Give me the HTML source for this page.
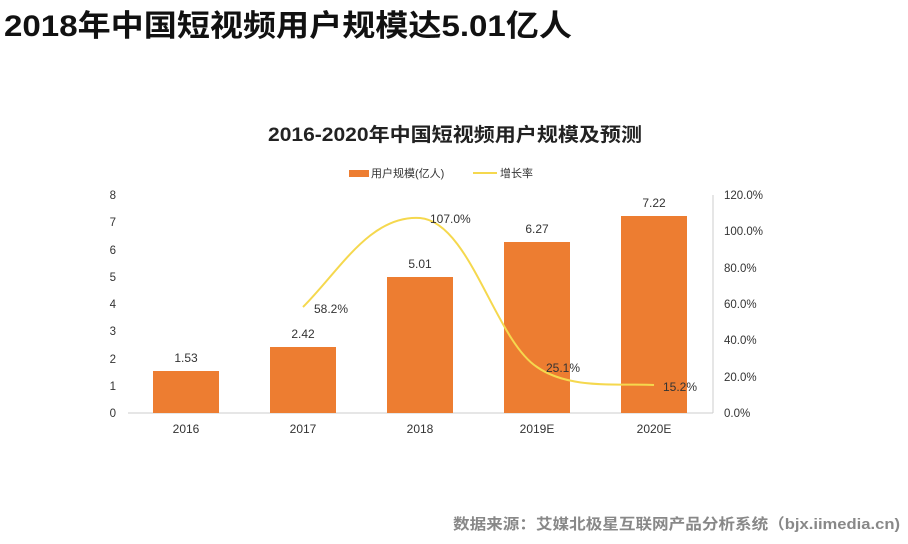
<!DOCTYPE html>
<html><head><meta charset="utf-8"><style>
body{margin:0;width:908px;height:539px;background:#fff;overflow:hidden;font-family:"Liberation Sans","Noto Sans CJK SC",sans-serif;}
</style></head><body>
<svg width="908" height="539" xmlns="http://www.w3.org/2000/svg" style="font-family:'Liberation Sans','Noto Sans CJK SC',sans-serif">
<text x="4" y="36" font-size="30" font-weight="bold" fill="#111" textLength="568" lengthAdjust="spacingAndGlyphs">2018年中国短视频用户规模达5.01亿人</text>
<text x="268" y="141" font-size="19" font-weight="bold" fill="#222" textLength="374" lengthAdjust="spacingAndGlyphs">2016-2020年中国短视频用户规模及预测</text>
<rect x="349" y="170" width="20" height="7" fill="#ED7D31"/>
<text x="371" y="177" font-size="11" fill="#333">用户规模(亿人)</text>
<line x1="473" y1="173" x2="497" y2="173" stroke="#F5D84E" stroke-width="2"/>
<text x="500" y="177" font-size="11" fill="#333">增长率</text>
<g font-size="11.5" fill="#333" text-anchor="end">
<text x="116" y="417">0</text><text x="116" y="390">1</text><text x="116" y="363">2</text><text x="116" y="335">3</text><text x="116" y="308">4</text><text x="116" y="281">5</text><text x="116" y="254">6</text><text x="116" y="226">7</text><text x="116" y="199">8</text>
</g>
<g font-size="11.5" fill="#333">
<text x="724" y="417">0.0%</text><text x="724" y="381">20.0%</text><text x="724" y="344">40.0%</text><text x="724" y="308">60.0%</text><text x="724" y="272">80.0%</text><text x="724" y="235">100.0%</text><text x="724" y="199">120.0%</text>
</g>
<line x1="713" y1="195" x2="713" y2="413" stroke="#ccc"/>
<line x1="128" y1="413" x2="713" y2="413" stroke="#ccc"/>
<g fill="#ED7D31">
<rect x="153" y="371" width="66" height="42"/>
<rect x="270" y="347" width="66" height="66"/>
<rect x="387" y="277" width="66" height="136"/>
<rect x="504" y="242" width="66" height="171"/>
<rect x="621" y="216" width="66" height="197"/>
</g>
<g font-size="12" fill="#333" text-anchor="middle">
<text x="186" y="362">1.53</text><text x="303" y="338">2.42</text><text x="420" y="268">5.01</text><text x="537" y="233">6.27</text><text x="654" y="207">7.22</text>
<text x="186" y="433">2016</text><text x="303" y="433">2017</text><text x="420" y="433">2018</text><text x="537" y="433">2019E</text><text x="654" y="433">2020E</text>
</g>
<path d="M303 307 C 340 270, 370 215, 420 218 C 470 222, 495 340, 537 367 C 570 390, 620 383, 654 385" fill="none" stroke="#F5D84E" stroke-width="2"/>
<g font-size="12" fill="#333">
<text x="314" y="313">58.2%</text><text x="430" y="223">107.0%</text><text x="546" y="372">25.1%</text><text x="663" y="391">15.2%</text>
</g>
<text x="453" y="529" font-size="15" font-weight="bold" fill="#888" textLength="447" lengthAdjust="spacingAndGlyphs">数据来源：艾媒北极星互联网产品分析系统（bjx.iimedia.cn)</text>
</svg>
</body></html>
